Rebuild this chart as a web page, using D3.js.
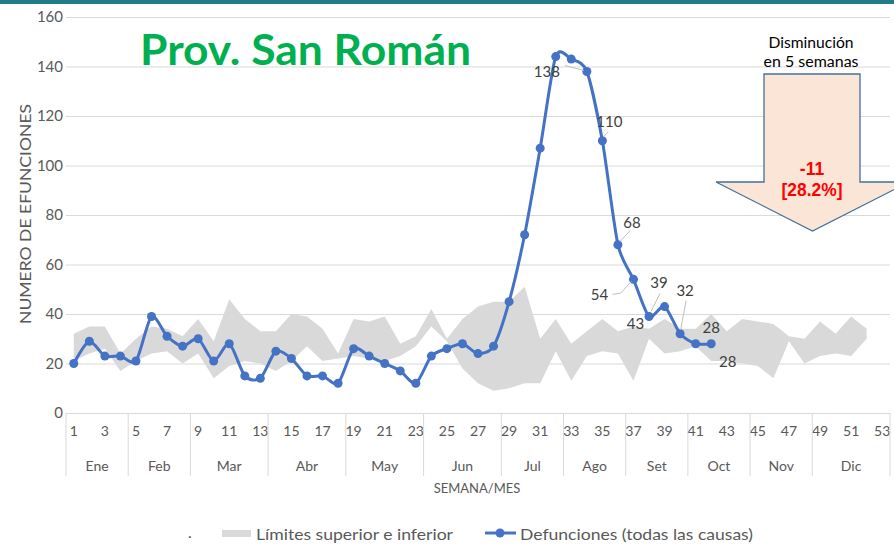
<!DOCTYPE html>
<html>
<head>
<meta charset="utf-8">
<script src="https://cdn.jsdelivr.net/npm/d3@7/dist/d3.min.js"></script>
<style>
  body { margin: 0; background: #fff; }
  svg { display: block; font-family: Carlito, Calibri, Lato, "Open Sans", sans-serif; }
</style>
</head>
<body>
<svg id="chart" width="894" height="549"></svg>
<script>
// ---- data -------------------------------------------------------------
const weeks = d3.range(1, 54);                       // epidemiological weeks 1..53
const deathWeeks = d3.range(1, 43);                  // weeks with reported deaths
const deaths = [20, 29, 23, 23, 21, 39, 31, 27, 30, 21,
                28, 15, 14, 25, 22, 15, 15, 12, 26, 23,
                20, 17, 12, 23, 26, 28, 24, 27, 45, 72,
                107, 144, 143, 138, 110, 68, 54, 39, 43, 32,
                28, 28];
const bandWeeks = d3.range(1, 53);                   // expected range, weeks 1..52
const bandLower = [21, 24, 26, 17, 21, 24, 25, 20, 24, 14,
                   19, 21, 20, 17, 21, 27, 21, 22, 23, 22,
                   21, 23, 27, 35, 29, 18, 12, 9, 10, 12,
                   12, 25, 13, 23, 25, 24, 13, 30, 24, 25,
                   27, 21, 21, 20, 19, 14, 29, 20, 23, 24,
                   23, 30];
const bandUpper = [32, 35, 35, 24, 30, 35, 34, 31, 38, 29,
                   46, 38, 33, 33, 40, 39, 34, 24, 38, 37,
                   39, 28, 31, 42, 30, 38, 43, 45, 45, 51,
                   30, 38, 28, 33, 38, 33, 35, 34, 38, 34,
                   34, 40, 33, 38, 37, 36, 31, 30, 37, 32,
                   39, 34];
const months = ["Ene", "Feb", "Mar", "Abr", "May", "Jun", "Jul", "Ago", "Set", "Oct", "Nov", "Dic"];
const monthWeeks = [4, 4, 5, 5, 5, 5, 4, 4, 4, 4, 4, 5];
const yTicks = [0, 20, 40, 60, 80, 100, 120, 140, 160];
const xTicks = weeks.filter(w => w % 2 === 1);
const labelledWeeks = [34, 35, 36, 37, 38, 39, 40, 41, 42];

// ---- layout -----------------------------------------------------------
const W = 894, H = 549;
const plot = { left: 66, right: 890, top: 17, bottom: 413 };
const svg = d3.select("#chart");

const x = d3.scaleBand().domain(weeks).range([plot.left, plot.right]).padding(0);
const cx = w => x(w) + x.bandwidth() / 2;
const y = d3.scaleLinear().domain([0, 160]).range([plot.bottom, plot.top]);

const C = {
  grid: "#d9d9d9", band: "#d9d9d9", line: "#4472c4",
  axisText: "#595959", label: "#404040", title: "#00b050"
};

// top rule
svg.append("rect").attr("x", 0).attr("y", 0).attr("width", W).attr("height", 4).attr("fill", "#227b89");

// horizontal gridlines + y labels
const yAxis = svg.append("g").attr("transform", `translate(${plot.left},0)`)
  .call(d3.axisLeft(y).tickValues(yTicks).tickSize(-(plot.right - plot.left)).tickPadding(3));
yAxis.select(".domain").remove();
yAxis.selectAll(".tick line").attr("stroke", C.grid).attr("stroke-width", 1);
yAxis.selectAll(".tick text").attr("fill", C.axisText).attr("font-size", 15)
  .attr("font-family", "Lato, sans-serif");

// expected range band
const area = d3.area()
  .x((d, i) => cx(bandWeeks[i]))
  .y0((d, i) => y(bandLower[i]))
  .y1((d, i) => y(bandUpper[i]));
svg.append("path").datum(bandWeeks).attr("d", area).attr("fill", C.band);

// week tick labels
const xAxis = svg.append("g").attr("transform", `translate(0,${plot.bottom})`)
  .call(d3.axisBottom(x).tickValues(xTicks).tickSize(0).tickPadding(13));
xAxis.select(".domain").remove();
xAxis.selectAll(".tick text").attr("fill", C.axisText).attr("font-size", 14)
  .attr("font-family", "Lato, sans-serif");

// month groups
let start = 1;
const bounds = [];
monthWeeks.forEach((n, i) => {
  const x0 = x(start);
  const x1 = x(start + n - 1) + x.bandwidth();
  bounds.push(x0);
  svg.append("text").attr("x", (x0 + x1) / 2).attr("y", 465)
    .attr("text-anchor", "middle").attr("dominant-baseline", "central")
    .attr("fill", C.axisText).attr("font-size", 14).attr("font-family", "Lato, sans-serif")
    .text(months[i]);
  start += n;
});
bounds.push(plot.right);
svg.append("g").selectAll("line").data(bounds).join("line")
  .attr("x1", d => d).attr("x2", d => d).attr("y1", plot.bottom).attr("y2", 476)
  .attr("stroke", C.grid).attr("stroke-width", 1);

// axis titles
svg.append("text").attr("x", 477).attr("y", 488)
  .attr("text-anchor", "middle").attr("dominant-baseline", "central")
  .attr("fill", C.axisText).attr("font-size", 13).attr("font-family", "Lato, sans-serif")
  .text("SEMANA/MES");
svg.append("text").attr("transform", "translate(25,214) rotate(-90)")
  .attr("text-anchor", "middle").attr("dominant-baseline", "central")
  .attr("fill", C.axisText).attr("font-size", 15).attr("font-family", "Lato, sans-serif")
  .attr("textLength", 220).attr("lengthAdjust", "spacingAndGlyphs")
  .text("NUMERO DE EFUNCIONES");

// deaths line (smoothed)
const line = d3.line()
  .x((d, i) => cx(deathWeeks[i]))
  .y(d => y(d))
  .curve(d3.curveCardinal.tension(0.25));
svg.append("path").datum(deaths).attr("d", line)
  .attr("fill", "none").attr("stroke", C.line).attr("stroke-width", 3);
svg.append("g").selectAll("circle").data(deaths).join("circle")
  .attr("cx", (d, i) => cx(deathWeeks[i])).attr("cy", d => y(d)).attr("r", 4.5)
  .attr("fill", C.line);

// value labels (offsets relative to their point; optional leader polyline)
const labelPlacement = {
  34: { dx: -40, dy: 0,   leader: [[-22, -6], [-3, -1]] },
  35: { dx: 7,   dy: -20, leader: [[6, -9], [1, -4]] },
  36: { dx: 14,  dy: -23, leader: [[12, -14], [2, -3]] },
  37: { dx: -34, dy: 15,  leader: [[-21, 15], [-13, 14], [-2, 2]] },
  38: { dx: 10,  dy: -34, leader: [[11, -23], [2, -5]] },
  39: { dx: -29, dy: 16 },
  40: { dx: 5,   dy: -44, leader: [[6, -33], [0.5, -4]] },
  41: { dx: 32,  dy: 17 },
  42: { dx: 0,   dy: -17 }
};
const lbl = svg.append("g");
labelledWeeks.forEach(w => {
  const v = deaths[deathWeeks.indexOf(w)];
  const px = cx(w), py = y(v), p = labelPlacement[w];
  if (p.leader) {
    lbl.append("polyline")
      .attr("points", p.leader.map(([a, b]) => `${px + a},${py + b}`).join(" "))
      .attr("fill", "none").attr("stroke", "#bfbfbf").attr("stroke-width", 1);
  }
  lbl.append("text").attr("x", px + p.dx).attr("y", py + p.dy)
    .attr("text-anchor", "middle").attr("dominant-baseline", "central")
    .attr("fill", C.label).attr("font-size", 15).attr("font-family", "Lato, sans-serif")
    .text(v);
});

// title
svg.append("text").attr("x", 140).attr("y", 65)
  .attr("fill", C.title).attr("font-size", 42).attr("font-weight", "bold")
  .attr("font-family", "Lato, sans-serif")
  .attr("textLength", 331).attr("lengthAdjust", "spacingAndGlyphs")
  .text("Prov. San Román");

// decrease arrow annotation
const arrow = [[764, 74], [860, 74], [860, 182], [909, 182], [812.5, 231], [716, 182], [764, 182]];
svg.append("polygon").attr("points", arrow.map(p => p.join(",")).join(" "))
  .attr("fill", "#fbe5d6").attr("stroke", "#41719c").attr("stroke-width", 1.3);
svg.append("text").attr("x", 811).attr("y", 42).attr("text-anchor", "middle")
  .attr("dominant-baseline", "central").attr("font-size", 15.5).attr("fill", "#000")
  .attr("font-family", "Lato, sans-serif")
  .attr("textLength", 85).attr("lengthAdjust", "spacingAndGlyphs").text("Disminución");
svg.append("text").attr("x", 811).attr("y", 61).attr("text-anchor", "middle")
  .attr("dominant-baseline", "central").attr("font-size", 15.5).attr("fill", "#000")
  .attr("font-family", "Lato, sans-serif")
  .attr("textLength", 95).attr("lengthAdjust", "spacingAndGlyphs").text("en 5 semanas");
svg.append("text").attr("x", 812).attr("y", 169).attr("text-anchor", "middle")
  .attr("dominant-baseline", "central").attr("font-size", 17.5).attr("font-weight", "bold")
  .attr("fill", "#ff0000").attr("font-family", "Liberation Sans, Arial, sans-serif").text("-11");
svg.append("text").attr("x", 812).attr("y", 190).attr("text-anchor", "middle")
  .attr("dominant-baseline", "central").attr("font-size", 17.5).attr("font-weight", "bold")
  .attr("fill", "#ff0000").attr("font-family", "Liberation Sans, Arial, sans-serif")
  .attr("textLength", 61).attr("lengthAdjust", "spacingAndGlyphs").text("[28.2%]");

// legend
const lg = svg.append("g").attr("font-family", "Lato, sans-serif").attr("font-size", 16).attr("fill", C.axisText);
lg.append("text").attr("x", 188).attr("y", 538).text(".");
lg.append("rect").attr("x", 222).attr("y", 530).attr("width", 29).attr("height", 7).attr("fill", C.band);
lg.append("text").attr("x", 256).attr("y", 533).attr("dominant-baseline", "central")
  .attr("textLength", 197).attr("lengthAdjust", "spacingAndGlyphs")
  .text("Límites superior e inferior");
lg.append("line").attr("x1", 485).attr("x2", 516).attr("y1", 533).attr("y2", 533)
  .attr("stroke", C.line).attr("stroke-width", 3);
lg.append("circle").attr("cx", 500).attr("cy", 533).attr("r", 4.5).attr("fill", C.line);
lg.append("text").attr("x", 520).attr("y", 533).attr("dominant-baseline", "central")
  .attr("textLength", 233).attr("lengthAdjust", "spacingAndGlyphs")
  .text("Defunciones (todas las causas)");
</script>
</body>
</html>
